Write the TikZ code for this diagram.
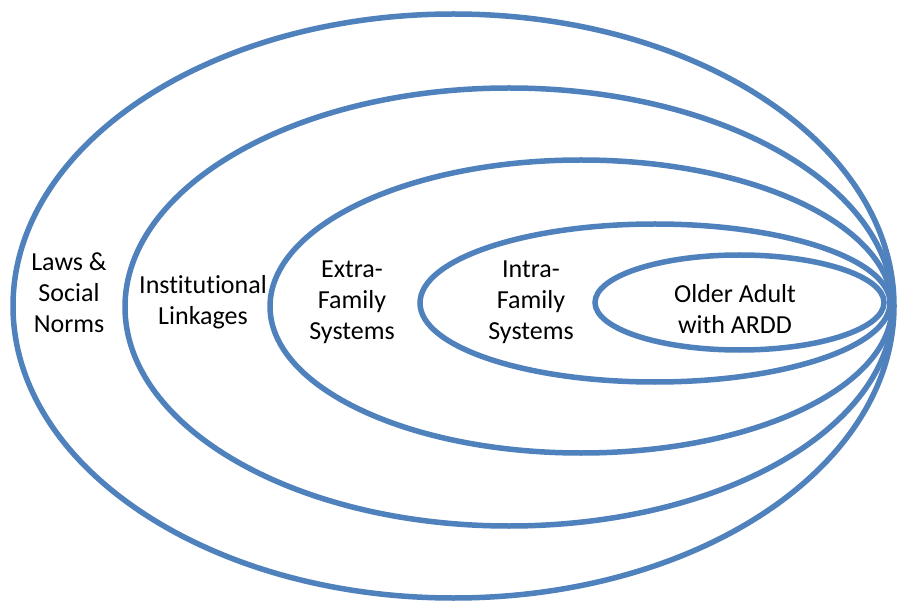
\documentclass[tikz,border=0pt]{standalone}
\usepackage{fontspec}
\setmainfont{Carlito}[Ligatures=NoCommon]
\definecolor{ringblue}{HTML}{4F81BD}
\tikzset{
  ring/.style={draw=ringblue, line width=5.5pt},
  lbl/.style={align=center, inner sep=0pt, font=\fontsize{26}{31}\selectfont}
}
\begin{document}
\begin{tikzpicture}[x=1pt,y=-1pt]
\useasboundingbox (0,0) rectangle (899,601);
\fill[white] (0,0) rectangle (899,601);
\draw[ring] (453.5,306) ellipse [x radius=440.5pt, y radius=292pt];
\draw[ring] (509,307) ellipse [x radius=384pt, y radius=219pt];
\draw[ring] (581,306.5) ellipse [x radius=311pt, y radius=146.5pt];
\draw[ring] (655,303) ellipse [x radius=235pt, y radius=79pt];
\draw[ring] (739.5,302.5) ellipse [x radius=144.5pt, y radius=47.5pt];
\node[lbl] (laws) at (69,293) {Laws \&\\Social\\Norms};
\node[lbl] (inst) at (203,302) {Institutional\\Linkages};
\node[lbl] (extra) at (352,302) {Extra-\\Family\\Systems};
\node[lbl] (intra) at (531,302) {Intra-\\Family\\Systems};
\node[lbl] (older) at (735,309) {Older Adult\\with ARDD};
\end{tikzpicture}
\end{document}
